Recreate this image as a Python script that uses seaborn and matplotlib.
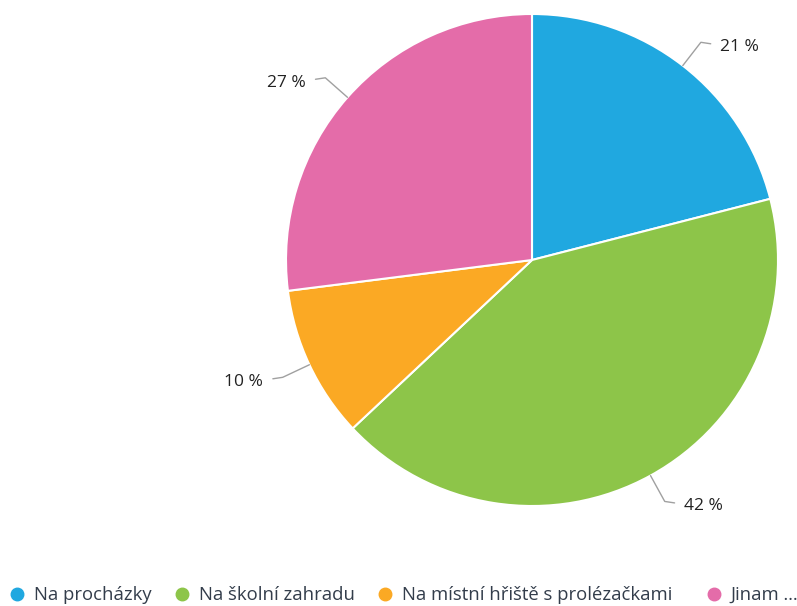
import numpy as np
import matplotlib
matplotlib.use("Agg")
import matplotlib.pyplot as plt
import seaborn as sns

categories = ["Na procházky", "Na školní zahradu", "Na místní hřiště s prolézačkami", "Jinam …"]
values = [21, 42, 10, 27]
colors = ["#20a8e0", "#8dc549", "#fba924", "#e46ca9"]

sns.set_theme(style="white")
plt.rcParams["font.family"] = ["Open Sans", "DejaVu Sans"]

fig = plt.figure(figsize=(7.97, 6.06), dpi=100)
# square axes holding the pie, centred at (532, 260) px
r_px = 246
ax = fig.add_axes([(532 - r_px) / 797, (606 - 260 - r_px) / 606, 2 * r_px / 797, 2 * r_px / 606])

wedges, _ = ax.pie(values, colors=colors, startangle=90, counterclock=False,
                   radius=1, wedgeprops=dict(edgecolor="white", linewidth=1.5))
ax.set_xlim(-1, 1)
ax.set_ylim(-1, 1)
ax.set_aspect("equal")
ax.axis("off")

for w, v in zip(wedges, values):
    theta = np.deg2rad((w.theta1 + w.theta2) / 2)
    c, s = np.cos(theta), np.sin(theta)
    side = 1 if c >= 0 else -1
    p0 = (1.0 * c, 1.0 * s)
    p1 = (1.12 * c, 1.12 * s)
    p2 = (p1[0] + side * 0.04, p1[1] - 0.006)
    ax.plot([p0[0], p1[0], p2[0]], [p0[1], p1[1], p2[1]], color="#a0a0a0",
            lw=1, clip_on=False, solid_capstyle="round")
    ax.annotate(f"{v} %", xy=p2, xytext=(side * 7, -2.5), textcoords="offset points",
                ha="left" if side > 0 else "right", va="center",
                fontsize=12.5, color="#222222", annotation_clip=False)

# legend items placed one by one along the bottom, like the original layout
fs = 13.3
marker_x = [17, 182, 385, 714]
for cat, col, mx in zip(categories, colors, marker_x):
    h = plt.Line2D([], [], marker="o", linestyle="", markersize=9,
                   markerfacecolor=col, markeredgecolor=col)
    leg = fig.legend([h], [cat], loc="center left",
                     bbox_to_anchor=((mx - 6.2) / 797, (606 - 595) / 606),
                     frameon=False, fontsize=fs, handlelength=0.7, handletextpad=0.54,
                     borderaxespad=0, borderpad=0)
    for t in leg.get_texts():
        t.set_color("#333d4b")

fig.savefig("out.png", dpi=100)
plt.close(fig)
